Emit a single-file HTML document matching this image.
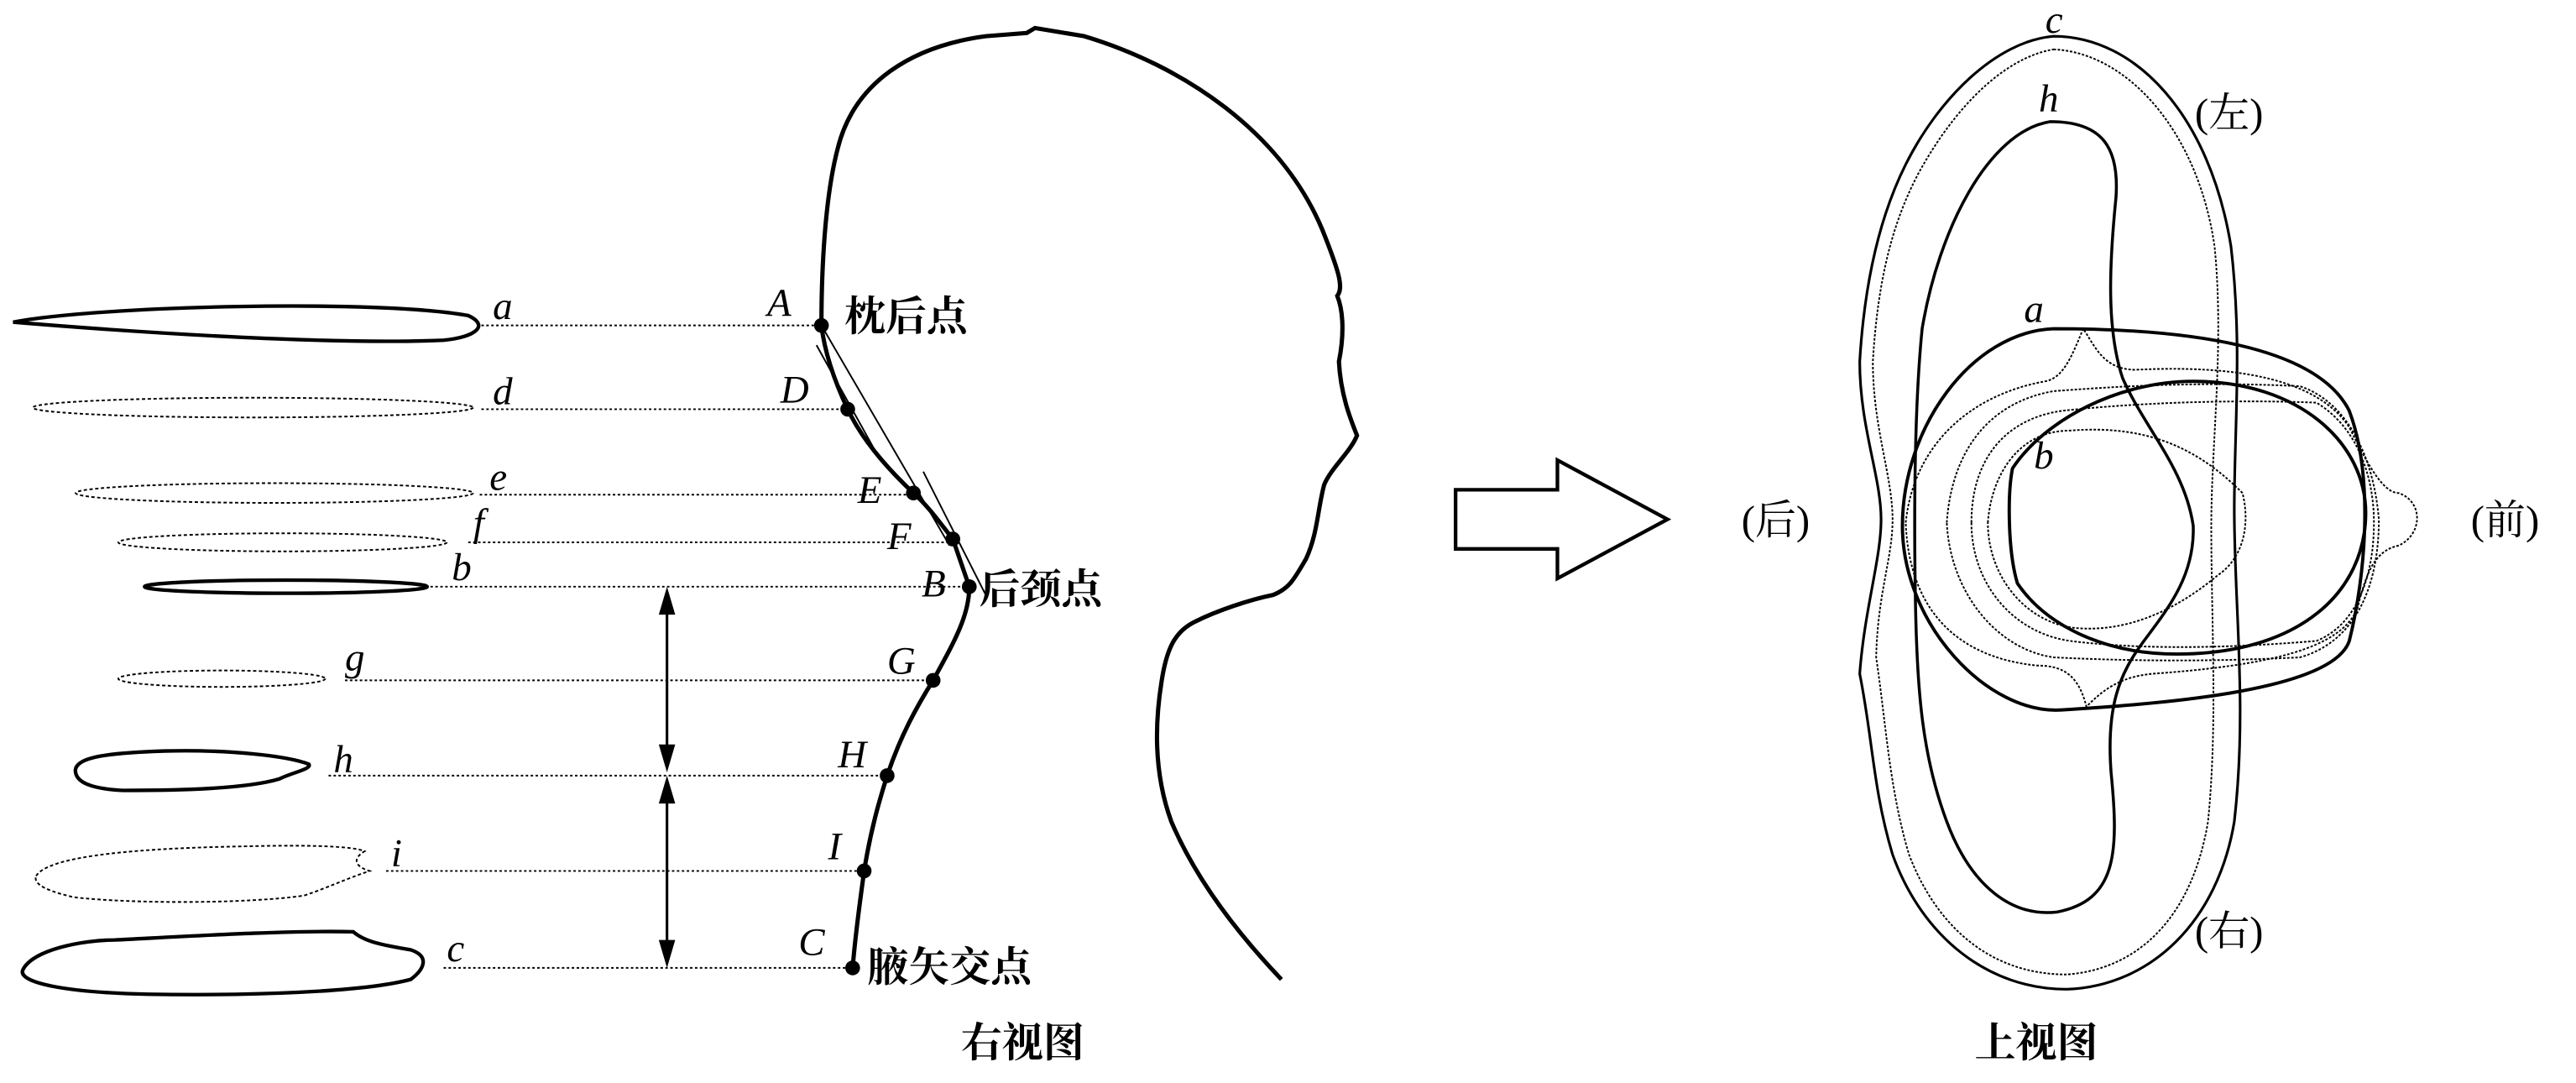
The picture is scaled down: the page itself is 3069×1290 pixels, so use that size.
<!DOCTYPE html>
<html><head><meta charset="utf-8"><style>
html,body{margin:0;padding:0;background:#fff;}
svg{display:block;}
.it{font-family:"Liberation Serif","Noto Serif CJK SC",serif;font-style:italic;font-size:24px;fill:#000;}
.cn{font-family:"Liberation Serif","Noto Serif CJK SC",serif;font-size:25px;font-weight:bold;fill:#000;}
.cp{font-family:"Liberation Serif","Noto Serif CJK SC",serif;font-size:25px;fill:#000;}
</style></head><body>
<svg width="3069" height="1290" viewBox="0 0 1568 659" xmlns="http://www.w3.org/2000/svg">
<g fill="none" stroke="#000">
<path d="M8,196 C60,186 230,182 285,192 C298,198 290,205 270,207 C200,210 80,202 8,196 Z" stroke-width="2.2"/>
<ellipse cx="154" cy="248" rx="134" ry="6" stroke-width="1" stroke-dasharray="2 1.5"/>
<ellipse cx="167" cy="300" rx="121" ry="6" stroke-width="1" stroke-dasharray="2 1.5"/>
<ellipse cx="172" cy="330" rx="100" ry="5.5" stroke-width="1" stroke-dasharray="2 1.5"/>
<ellipse cx="174" cy="357" rx="86" ry="4" stroke-width="2.2"/>
<ellipse cx="135" cy="413" rx="63" ry="5" stroke-width="1" stroke-dasharray="2 1.5"/>
<path d="M46,470 C44,460 70,458 100,457 C140,456 175,460 188,465 C190,468 178,470 170,474 C150,480 110,481 75,481 C55,480 47,476 46,470 Z" stroke-width="2.2"/>
<path d="M22,533 C30,520 90,516 150,515 C190,514 215,515 222,518 C215,522 215,527 225,530 C210,535 200,540 185,545 C150,550 80,550 45,546 C28,542 20,538 22,533 Z" stroke-width="1" stroke-dasharray="2 1.5"/>
<path d="M14,590 C20,578 50,572 70,572 C110,570 175,566 215,567 C222,573 232,575 250,578 C262,582 258,590 250,596 C220,604 150,606 90,605 C40,604 10,598 14,590 Z" stroke-width="2.2"/>
<g stroke-width="1" stroke-dasharray="1.5 1.5">
<line x1="293" y1="198" x2="498" y2="198"/>
<line x1="293" y1="249" x2="514" y2="249"/>
<line x1="292" y1="301" x2="554" y2="301"/>
<line x1="285" y1="330" x2="578" y2="330"/>
<line x1="262" y1="357" x2="588" y2="357"/>
<line x1="210" y1="414" x2="566" y2="414"/>
<line x1="200" y1="472" x2="538" y2="472"/>
<line x1="235" y1="530" x2="524" y2="530"/>
<line x1="270" y1="589" x2="517" y2="589"/>
</g>
<line x1="406" y1="362" x2="406" y2="466" stroke-width="1.6"/>
<line x1="406" y1="475" x2="406" y2="584" stroke-width="1.6"/>
<path d="M519,589 C521,565 524,545 526,530 C530,505 535,488 540,472 C548,448 558,430 568,414 C580,392 590,375 590,357 L580,328 C572,318 565,308 556,300 C540,285 525,268 516,249 C508,232 502,215 500,198 C500,165 502,120 510,90 C520,50 555,28 600,22 L625,20 L630,17 L660,22 C720,40 780,80 805,140 C815,165 818,175 814,180 C818,190 818,205 815,220 C816,240 822,255 826,265 C822,275 810,285 806,295 C802,310 802,325 795,340 C788,352 785,358 775,362 C760,365 740,372 728,378 C715,384 710,395 707,415 C703,440 702,470 713,500 C730,540 760,575 780,596" stroke-width="2.6"/>
<line x1="500" y1="198" x2="578" y2="332" stroke-width="1"/>
<line x1="497" y1="210" x2="532" y2="273" stroke-width="1"/>
<line x1="562" y1="287" x2="600" y2="362" stroke-width="1"/>
<path d="M886,298 L948,298 L948,280 L1015,316 L948,352 L948,334 L886,334 Z" stroke-width="2.2"/>
<path d="M1250,22 C1300,22 1345,70 1358,150 C1365,210 1360,260 1360,310 C1360,370 1368,430 1360,500 C1350,560 1310,600 1258,602 C1210,602 1170,570 1152,520 C1140,480 1140,450 1132,410 C1135,370 1145,340 1145,316 C1145,290 1132,260 1132,220 C1135,170 1145,130 1160,100 C1180,60 1215,25 1250,22 Z" stroke-width="1.6"/>
<path d="M1250,30 C1295,32 1338,80 1348,150 C1354,210 1346,270 1346,320 C1346,380 1350,440 1344,500 C1334,560 1300,590 1258,593 C1210,593 1178,562 1162,520 C1150,480 1148,440 1142,400 C1143,360 1152,340 1152,316 C1152,290 1140,260 1140,220 C1143,170 1152,135 1168,105 C1190,65 1220,35 1250,30 Z" stroke-width="1" stroke-dasharray="1.5 1"/>
<path d="M1248,74 C1280,74 1290,90 1288,120 C1284,160 1282,200 1292,230 C1305,260 1330,285 1335,320 C1336,350 1320,370 1305,390 C1290,410 1282,430 1285,470 C1290,520 1288,548 1252,555 C1225,558 1200,540 1185,500 C1170,460 1167,420 1166,370 C1165,320 1165,250 1170,200 C1180,140 1210,80 1248,74 Z" stroke-width="1.8"/>
<g stroke-width="1" stroke-dasharray="1.5 1">
<path d="M1160,318 C1165,270 1200,240 1245,232 C1255,230 1260,220 1268,200 C1275,210 1280,225 1300,225 C1360,222 1410,230 1430,260 C1440,280 1450,300 1460,300 C1475,305 1475,325 1460,332 C1445,335 1440,350 1435,370 C1425,395 1380,405 1310,410 C1290,412 1280,420 1270,430 C1265,410 1255,405 1240,405 C1190,400 1162,370 1160,318 Z"/>
<path d="M1185,318 C1188,275 1210,245 1250,238 C1290,235 1340,232 1400,235 C1430,245 1445,280 1448,316 C1448,355 1435,390 1400,400 C1340,403 1290,402 1250,400 C1215,395 1187,360 1185,318 Z"/>
<path d="M1200,318 C1200,280 1220,255 1255,250 C1300,245 1360,243 1410,245 C1435,260 1445,290 1445,318 C1445,350 1435,380 1410,390 C1350,395 1300,395 1260,390 C1225,385 1200,355 1200,318 Z"/>
<path d="M1210,318 C1212,290 1228,262 1260,262 C1310,258 1340,275 1365,300 C1370,320 1365,340 1350,350 C1320,375 1290,385 1262,382 C1232,378 1210,350 1210,318 Z"/>
</g>
<path d="M1158,320 C1158,260 1200,202 1250,200 C1330,200 1410,210 1430,250 C1445,290 1440,350 1430,390 C1420,420 1320,428 1255,432 C1210,435 1158,380 1158,320 Z" stroke-width="2"/>
<path d="M1225,285 C1245,255 1290,232 1335,232 C1400,232 1440,270 1440,312 C1440,360 1400,398 1325,398 C1280,398 1245,380 1228,355 C1222,335 1222,300 1225,285 Z" stroke-width="2"/>
</g>
<g fill="#000">
<path d="M406,357 L401,374 L411,374 Z"/>
<path d="M406,470 L401,453 L411,453 Z"/>
<path d="M406,472 L401,489 L411,489 Z"/>
<path d="M406,589 L401,572 L411,572 Z"/>
<circle cx="500" cy="198" r="4.5"/><circle cx="516" cy="249" r="4.5"/>
<circle cx="556" cy="300" r="4.5"/><circle cx="580" cy="328" r="4.5"/>
<circle cx="590" cy="357" r="4.5"/><circle cx="568" cy="414" r="4.5"/>
<circle cx="540" cy="472" r="4.5"/><circle cx="526" cy="530" r="4.5"/>
<circle cx="519" cy="589" r="4.5"/>
</g>
<text class="it" x="300" y="194">a</text>
<text class="it" x="300" y="246">d</text>
<text class="it" x="298" y="298">e</text>
<text class="it" x="288" y="326">f</text>
<text class="it" x="275" y="353">b</text>
<text class="it" x="210" y="408">g</text>
<text class="it" x="203" y="470">h</text>
<text class="it" x="238" y="527">i</text>
<text class="it" x="272" y="585">c</text>
<text class="it" x="467" y="192">A</text>
<text class="it" x="475" y="245">D</text>
<text class="it" x="522" y="306">E</text>
<text class="it" x="540" y="334">F</text>
<text class="it" x="561" y="363">B</text>
<text class="it" x="540" y="410">G</text>
<text class="it" x="510" y="467">H</text>
<text class="it" x="504" y="523">I</text>
<text class="it" x="486" y="581">C</text>
<text class="cn" x="514" y="201">枕后点</text>
<text class="cn" x="596" y="367">后颈点</text>
<text class="cn" x="528" y="597">腋矢交点</text>
<text class="cn" x="585" y="643">右视图</text>
<text class="it" x="1245" y="20">c</text>
<text class="it" x="1241" y="68">h</text>
<text class="it" x="1232" y="196">a</text>
<text class="it" x="1238" y="285">b</text>
<text class="cp" x="1060" y="325">(后)</text>
<text class="cp" x="1504" y="325">(前)</text>
<text class="cp" x="1336" y="77">(左)</text>
<text class="cp" x="1336" y="575">(右)</text>
<text class="cn" x="1202" y="643">上视图</text>
</svg>
</body></html>
